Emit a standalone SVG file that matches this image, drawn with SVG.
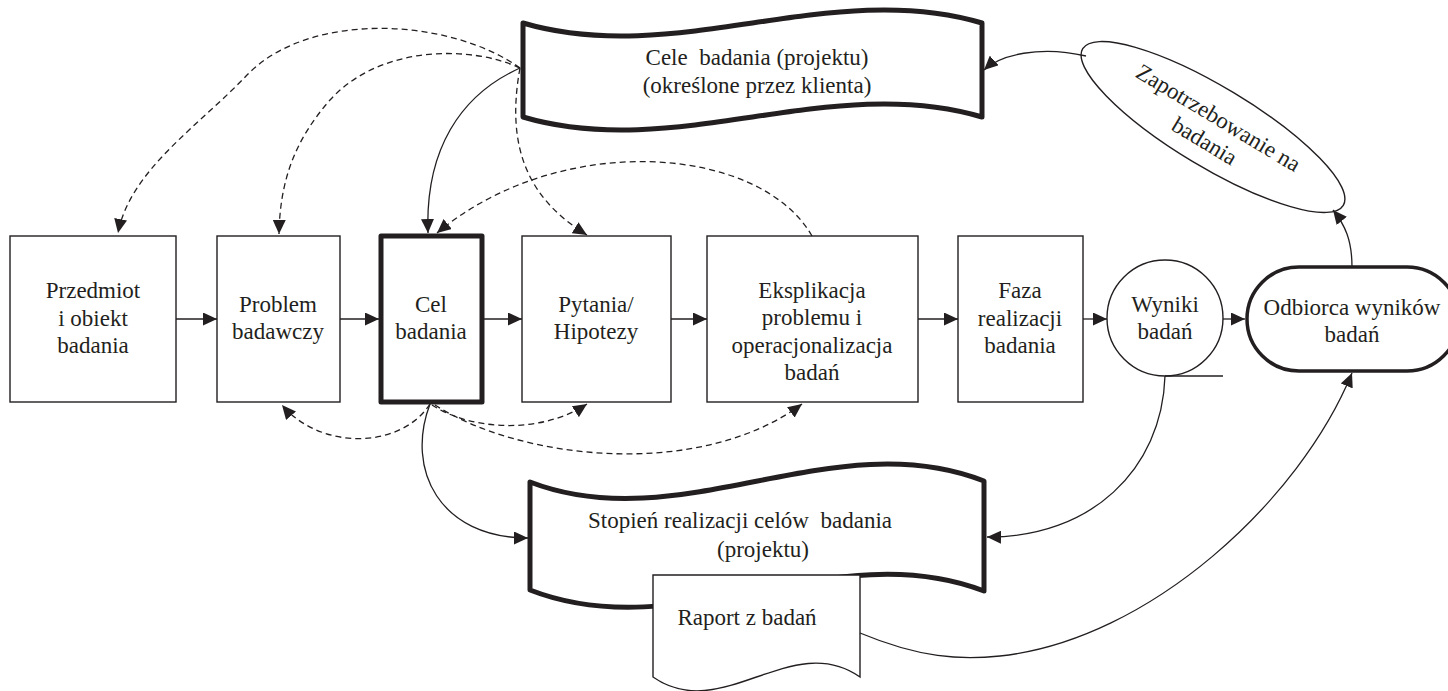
<svg xmlns="http://www.w3.org/2000/svg" width="1448" height="691" viewBox="0 0 1448 691">
<defs>
<marker id="ah" markerUnits="userSpaceOnUse" markerWidth="15" markerHeight="13" refX="14" refY="6.5" orient="auto">
<path d="M0,0 L14,6.5 L0,13 Z" fill="#231f20" stroke="none"/>
</marker>
<style>
.n{fill:#fff;stroke:#231f20;stroke-width:1.4}
.thick{fill:#fff;stroke:#231f20;stroke-width:5;stroke-linejoin:round}
.c{fill:none;stroke:#231f20;stroke-width:1.3;marker-end:url(#ah)}
.d{fill:none;stroke:#231f20;stroke-width:1.3;stroke-dasharray:6 4;marker-end:url(#ah)}
</style>
</defs>
<rect width="1448" height="691" fill="#fff"/>
<g font-family="Liberation Serif, Times New Roman, DejaVu Serif, serif" font-size="23" fill="#231f20" text-anchor="middle">
<g id="przedmiot"><rect class="n" x="10" y="236" width="166" height="166"/><text x="93" y="298">Przedmiot</text><text x="93" y="326">i obiekt</text><text x="93" y="353">badania</text></g>
<g id="problem"><rect class="n" x="217" y="236" width="123" height="166"/><text x="278" y="312">Problem</text><text x="278" y="339">badawczy</text></g>
<g id="cel"><rect class="thick" x="381" y="236" width="101" height="166"/><text x="431" y="312">Cel</text><text x="431" y="339">badania</text></g>
<g id="pytania"><rect class="n" x="522" y="236" width="149" height="166"/><text x="596" y="312">Pytania/</text><text x="596" y="339">Hipotezy</text></g>
<g id="eksplikacja"><rect class="n" x="707" y="236" width="211" height="166"/><text x="812" y="298">Eksplikacja</text><text x="812" y="325">problemu i</text><text x="812" y="353">operacjonalizacja</text><text x="812" y="380">badań</text></g>
<g id="faza"><rect class="n" x="958" y="236" width="125" height="166"/><text x="1020" y="298">Faza</text><text x="1020" y="326">realizacji</text><text x="1020" y="353">badania</text></g>
<g id="wyniki"><circle class="n" cx="1165" cy="318" r="58"/><line x1="1165" y1="376" x2="1223" y2="376" stroke="#231f20" stroke-width="1.4"/><text x="1165" y="312">Wyniki</text><text x="1165" y="339">badań</text></g>
<g id="odbiorca"><rect x="1247" y="267" width="212" height="104" rx="52" fill="#fff" stroke="#231f20" stroke-width="3.5"/><text x="1352" y="315">Odbiorca wyników</text><text x="1352" y="342">badań</text></g>
<g id="zapotrzebowanie"><ellipse class="n" cx="1213" cy="127" rx="152" ry="40" transform="rotate(31 1213 127)"/><g transform="rotate(31 1213 127)"><text x="1213" y="124">Zapotrzebowanie na</text><text x="1213" y="151">badania</text></g></g>
<g id="cele"><path class="thick" d="M523,23 C676,68 829,-22 982,23 L982,117 C829,72 676,162 523,117 Z"/><text x="757" y="65" xml:space="preserve">Cele  badania (projektu)</text><text x="757" y="93">(określone przez klienta)</text></g>
<g id="stopien"><path class="thick" d="M530,482 C681,540 833,422 984,481 L984,591 C833,533 681,649 530,590 Z"/><text x="740" y="528" xml:space="preserve">Stopień realizacji celów  badania</text><text x="763" y="557">(projektu)</text></g>
<g id="raport"><path class="n" d="M653,575 L860,575 L860,677 C791,629 722,725 653,677 Z"/><text x="747" y="625">Raport z badań</text></g>
</g>
<g id="connectors">
<line class="c" x1="176" y1="319" x2="217" y2="319"/>
<line class="c" x1="340" y1="319" x2="379" y2="319"/>
<line class="c" x1="484" y1="319" x2="522" y2="319"/>
<line class="c" x1="671" y1="319" x2="707" y2="319"/>
<line class="c" x1="918" y1="319" x2="958" y2="319"/>
<line class="c" x1="1083" y1="319" x2="1107" y2="319"/>
<line class="c" x1="1223" y1="319" x2="1245" y2="319"/>
<path class="d" d="M520,68 C450,18 310,10 247,75 C200,125 130,170 118,233"/>
<path class="d" d="M520,68 C470,45 380,45 330,100 C295,140 280,180 279,234"/>
<path class="c" d="M520,68 C460,95 425,150 428,233"/>
<path class="d" d="M520,68 C505,150 530,200 587,235"/>
<path class="d" d="M812,236 C760,145 560,130 437,233"/>
<path class="c" d="M1086,56 C1040,45 1000,55 984,70"/>
<path class="c" d="M1352,267 C1352,240 1345,225 1333,210"/>
<path class="d" d="M430,404 C400,450 320,450 282,405"/>
<path class="d" d="M432,405 C470,430 540,435 587,404"/>
<path class="d" d="M435,405 C520,460 700,480 802,404"/>
<path class="c" d="M430,404 C405,470 440,538 528,538"/>
<path class="c" d="M1165,376 C1162,470 1090,538 987,537"/>
<path class="c" d="M860,633 C920,658 960,660 1000,656 C1150,640 1300,500 1352,373"/>
</g>
</svg>
